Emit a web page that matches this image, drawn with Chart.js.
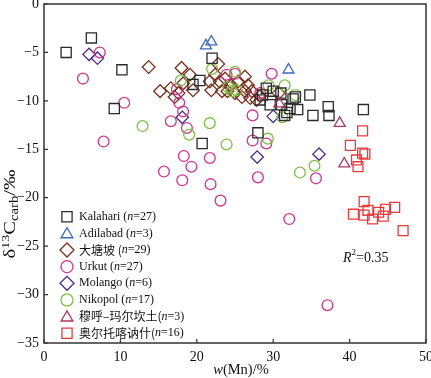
<!DOCTYPE html>
<html>
<head>
<meta charset="utf-8">
<script src="https://cdn.jsdelivr.net/npm/chart.js@4/dist/chart.umd.min.js"></script>
<style>
html,body{margin:0;padding:0;background:#fff;}
#wrap{width:431px;height:378px;}
</style>
</head>
<body>
<div id="wrap"><canvas id="c" width="431" height="378"></canvas></div>
<script>
// ---- data (x = w(Mn) %, y = δ13C carb ‰) ----
const kalahari = [[2.9,-5.0],[6.2,-3.5],[10.2,-6.8],[9.2,-10.8],[22.0,-5.6],[20.4,-7.9],[19.5,-8.3],[29.1,-8.7],[28.3,-9.9],[31.0,-9.2],[32.6,-9.8],[34.8,-9.4],[29.6,-10.4],[31.1,-10.4],[33.2,-10.9],[35.2,-11.5],[37.2,-10.6],[37.3,-11.5],[41.8,-10.9],[31.5,-11.5],[28.0,-13.3],[20.7,-14.4],[32.9,-9.6],[30.0,-9.0],[28.6,-9.4],[32.2,-10.8],[31.8,-11.2]];
const adilabad = [[21.2,-4.3],[21.9,-3.9],[32.0,-6.8]];
const datangpo = [[13.7,-6.5],[18.0,-6.6],[15.2,-9.0],[16.6,-8.7],[17.1,-9.6],[19.1,-7.3],[22.8,-6.2],[22.4,-7.3],[21.7,-8.0],[23.0,-8.0],[23.7,-7.7],[21.9,-8.9],[23.3,-9.0],[17.6,-9.2],[19.5,-8.9],[18.2,-8.2],[25.4,-8.0],[26.3,-7.5],[26.7,-8.4],[26.3,-9.0],[27.2,-9.0],[25.9,-9.6],[27.0,-9.7],[27.8,-9.9],[30.7,-9.2],[24.5,-8.4],[25.0,-9.2],[28.3,-9.5],[24.0,-9.0]];
const urkut = [[7.3,-5.0],[5.1,-7.7],[10.5,-10.2],[17.4,-8.8],[17.7,-10.2],[18.2,-11.1],[16.6,-12.1],[18.7,-12.8],[23.9,-7.3],[29.8,-7.2],[28.3,-9.2],[27.3,-11.5],[7.8,-14.2],[18.3,-15.7],[19.3,-16.8],[21.7,-15.9],[15.7,-17.3],[18.1,-18.2],[21.8,-18.6],[23.1,-20.3],[27.3,-14.1],[29.1,-14.4],[28.0,-17.9],[35.6,-18.0],[32.1,-22.2],[37.1,-31.1],[25.0,-7.2]];
const molango = [[5.9,-5.2],[7.0,-5.6],[18.1,-11.7],[30.0,-11.6],[27.9,-15.8],[36.0,-15.5]];
const nikopol = [[17.9,-7.9],[22.0,-6.7],[25.0,-7.0],[24.1,-8.6],[12.9,-12.6],[21.7,-12.3],[29.4,-8.4],[31.5,-8.4],[32.9,-9.4],[31.2,-11.7],[19.0,-13.5],[23.9,-14.5],[29.3,-13.9],[33.5,-17.4],[35.4,-16.7],[25.2,-8.9],[24.6,-9.0]];
const muhu = [[30.8,-10.3],[38.7,-12.3],[39.3,-16.5]];
const aoertuo = [[41.7,-13.1],[40.1,-14.6],[41.7,-15.4],[42.0,-15.5],[40.9,-16.1],[41.1,-16.8],[41.9,-20.4],[40.5,-21.7],[42.4,-21.3],[41.9,-21.8],[43.8,-21.5],[43.0,-22.2],[44.4,-21.9],[44.7,-21.2],[45.9,-21.0],[47.0,-23.4]];

const seriesNames = ['Kalahari','Adilabad','大塘坡','Urkut','Molango','Nikopol','穆呼–玛尔坎土','奥尔托喀讷什'];
const seriesCounts = [27,3,29,27,6,17,3,16];
const xTicks = [0,10,20,30,40,50];
const yTicks = [-35,-30,-25,-20,-15,-10,-5,0];
const r2Label = '0.35';

const seriesData = [kalahari,adilabad,datangpo,urkut,molango,nikopol,muhu,aoertuo];
const styles = [
  {shape:'rect', color:'#2b2b2b', r:7.2},
  {shape:'triangle', color:'#3a68c0', r:6.3},
  {shape:'rectRot', color:'#7b2e1c', r:6.4},
  {shape:'circle', color:'#d2348e', r:5.4},
  {shape:'rectRot', color:'#4b2a8e', r:6.2},
  {shape:'circle', color:'#7cc143', r:5.4},
  {shape:'triangle', color:'#a63a5c', r:6.3},
  {shape:'rect', color:'#ec3a3a', r:7.0}
];
const drawOrder = [7,6,1,0,5,3,4,2];

const SERIF = '"Liberation Serif","Noto Sans CJK SC",serif';

const datasets = drawOrder.map(i => ({
  label: seriesNames[i],
  data: seriesData[i].map(p => ({x:p[0], y:p[1]})),
  pointStyle: styles[i].shape,
  pointRadius: styles[i].r,
  pointHoverRadius: styles[i].r,
  pointBorderWidth: 1.3,
  borderColor: styles[i].color,
  backgroundColor: 'rgba(0,0,0,0)',
  pointBackgroundColor: 'rgba(0,0,0,0)',
  showLine: false
}));

function drawShape(ctx, shape, x, y, r, color){
  ctx.save();
  ctx.strokeStyle = color; ctx.lineWidth = 1.3;
  ctx.beginPath();
  if (shape === 'rect') {
    const s = Math.SQRT1_2 * r;
    ctx.rect(x - s, y - s, 2*s, 2*s);
  } else if (shape === 'circle') {
    ctx.arc(x, y, r, 0, Math.PI*2);
  } else if (shape === 'triangle') {
    for (let k=0;k<3;k++){
      const a = k*2*Math.PI/3;
      const px = x + Math.sin(a)*r, py = y - Math.cos(a)*r;
      if(k===0) ctx.moveTo(px,py); else ctx.lineTo(px,py);
    }
    ctx.closePath();
  } else if (shape === 'rectRot') {
    ctx.moveTo(x - r, y); ctx.lineTo(x, y - r); ctx.lineTo(x + r, y); ctx.lineTo(x, y + r); ctx.closePath();
  }
  ctx.stroke();
  ctx.restore();
}

function drawSegments(ctx, segs, x, y){
  let cx = x;
  segs.forEach(s => {
    ctx.font = s.font;
    ctx.fillText(s.t, cx, y + (s.dy||0));
    cx += ctx.measureText(s.t).width;
  });
  return cx;
}
function segWidth(ctx, segs){
  let w = 0;
  segs.forEach(s => { ctx.font = s.font; w += ctx.measureText(s.t).width; });
  return w;
}

const decor = {
  id: 'decor',
  afterDraw(chart){
    const ctx = chart.ctx, a = chart.chartArea;
    const xs = chart.scales.x, ys = chart.scales.y;
    ctx.save();
    // frame
    ctx.strokeStyle = '#333'; ctx.lineWidth = 1.5;
    ctx.strokeRect(a.left, a.top, a.right - a.left, a.bottom - a.top);
    // inward ticks
    ctx.lineWidth = 1.2;
    ctx.beginPath();
    xTicks.forEach(v => { const px = xs.getPixelForValue(v); ctx.moveTo(px, a.bottom); ctx.lineTo(px, a.bottom - 4); });
    yTicks.forEach(v => { const py = ys.getPixelForValue(v); ctx.moveTo(a.left, py); ctx.lineTo(a.left + 4, py); });
    ctx.stroke();

    // tick labels
    ctx.fillStyle = '#111';
    ctx.font = '14px ' + SERIF;
    ctx.textBaseline = 'middle';
    ctx.textAlign = 'center';
    xTicks.forEach(v => ctx.fillText(String(v), xs.getPixelForValue(v), a.bottom + 14));
    ctx.textAlign = 'right';
    yTicks.forEach(v => ctx.fillText(String(v).replace('-', '−'), a.left - 5, ys.getPixelForValue(v)));

    ctx.textAlign = 'left';
    // legend
    const lx = 67, tx = 79, y0 = 216.7, dy = 16.65;
    const legendStyles = [
      {shape:'rect', r:7.2},{shape:'triangle', r:6.8},{shape:'rectRot', r:7},{shape:'circle', r:6},
      {shape:'rectRot', r:7},{shape:'circle', r:6},{shape:'triangle', r:6.8},{shape:'rect', r:7.2}
    ];
    seriesNames.forEach((nm, i) => {
      const y = y0 + i*dy;
      drawShape(ctx, legendStyles[i].shape, lx, y + (legendStyles[i].shape==='triangle'?1:0), legendStyles[i].r, styles[i].color);
      const isCJK = /[\u4e00-\u9fff]/.test(nm);
      const sep = (i === 6 || i === 7) ? '(' : ' (';
      const f = '12px ' + SERIF, fi = 'italic 12px ' + SERIF;
      ctx.fillStyle = '#111';
      drawSegments(ctx, [
        {t: nm + sep, font: isCJK ? '12px "Noto Sans CJK SC",' + SERIF : f},
        {t: 'n', font: fi},
        {t: '=' + seriesCounts[i] + ')', font: f}
      ], tx, y);
    });

    // R^2
    drawSegments(ctx, [
      {t:'R', font:'italic 14px ' + SERIF},
      {t:'2', font:'9px ' + SERIF, dy:-5},
      {t:'=' + r2Label, font:'14px ' + SERIF}
    ], 343, 258);

    // x title
    const xt = [{t:'w', font:'italic 14.5px ' + SERIF},{t:'(Mn)/%', font:'14.5px ' + SERIF}];
    const xw = segWidth(ctx, xt);
    drawSegments(ctx, xt, 241 - xw/2, 370);

    // y title (rotated)
    ctx.save();
    ctx.translate(11, 214);
    ctx.rotate(-Math.PI/2);
    ctx.scale(1.28, 1);
    const yt = [
      {t:'δ', font:'16px ' + SERIF},
      {t:'13', font:'11px ' + SERIF, dy:-5},
      {t:'C', font:'16px ' + SERIF},
      {t:'carb', font:'11.5px ' + SERIF, dy:4},
      {t:'/‰', font:'16px ' + SERIF}
    ];
    const yw = segWidth(ctx, yt);
    drawSegments(ctx, yt, -yw/2, 0);
    ctx.restore();

    ctx.restore();
  }
};

new Chart(document.getElementById('c'), {
  type: 'scatter',
  data: { datasets },
  options: {
    responsive: false,
    animation: false,
    events: [],
    layout: { autoPadding: false, padding: { top: 4, right: 5, left: 0, bottom: 0 } },
    plugins: { legend: { display: false }, tooltip: { enabled: false } },
    scales: {
      x: {
        type: 'linear', min: 0, max: 50,
        afterBuildTicks(s){ s.ticks = xTicks.map(v => ({value: v})); },
        grid: { display: false, drawTicks: false, tickLength: 0 },
        border: { display: false },
        ticks: { display: false },
        afterFit(s){ s.height = 35; }
      },
      y: {
        type: 'linear', min: -35, max: 0,
        afterBuildTicks(s){ s.ticks = yTicks.map(v => ({value: v})); },
        grid: { display: false, drawTicks: false, tickLength: 0 },
        border: { display: false },
        ticks: { display: false },
        afterFit(s){ s.width = 44; }
      }
    }
  },
  plugins: [decor]
});
</script>
</body>
</html>
